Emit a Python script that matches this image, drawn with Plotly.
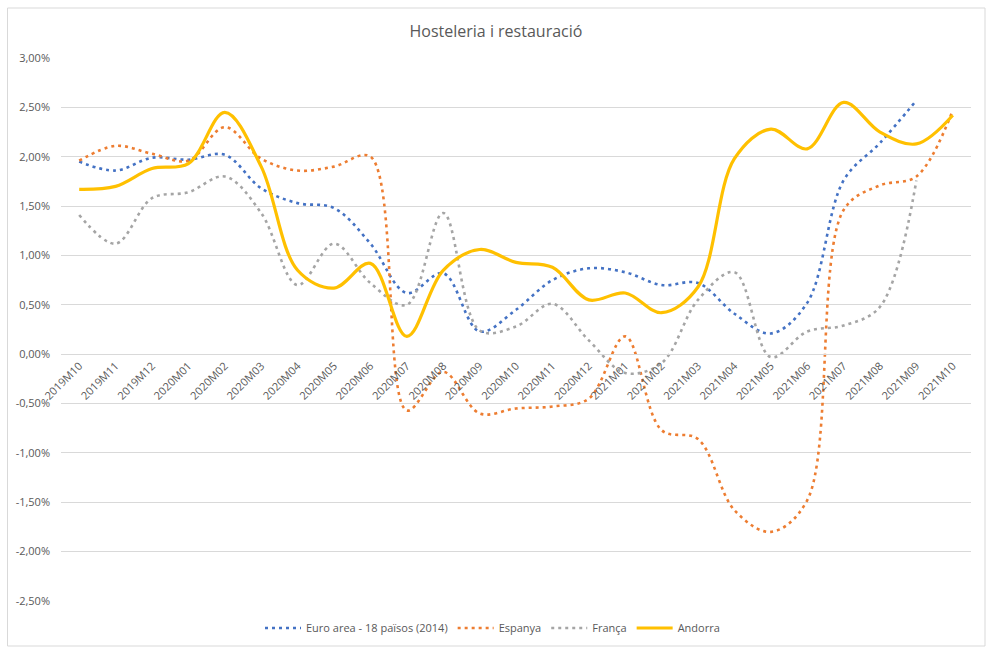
import plotly.graph_objects as go

months = ["2019M10", "2019M11", "2019M12", "2020M01", "2020M02", "2020M03", "2020M04",
          "2020M05", "2020M06", "2020M07", "2020M08", "2020M09", "2020M10", "2020M11",
          "2020M12", "2021M01", "2021M02", "2021M03", "2021M04", "2021M05", "2021M06",
          "2021M07", "2021M08", "2021M09", "2021M10"]

euro_area = [1.95, 1.86, 1.99, 1.97, 2.02, 1.68, 1.53, 1.48, 1.12, 0.62, 0.82, 0.23,
             0.45, 0.75, 0.87, 0.83, 0.70, 0.72, 0.41, 0.21, 0.52, 1.76, 2.14, 2.57, None]
espanya = [1.96, 2.11, 2.03, 1.96, 2.30, 1.98, 1.86, 1.90, 2.00, -0.57, -0.18, -0.60,
           -0.55, -0.53, -0.45, 0.18, -0.77, -0.86, -1.58, -1.80, -1.48, 1.46, 1.71, 1.80, 2.47]
franca = [1.41, 1.12, 1.58, 1.64, 1.80, 1.43, 0.70, 1.12, 0.72, 0.50, 1.43, 0.24,
          0.28, 0.51, 0.14, -0.19, -0.09, 0.55, 0.83, -0.03, 0.23, 0.29, 0.48, 1.76, None]
andorra = [1.67, 1.70, 1.88, 1.93, 2.45, 1.90, 0.85, 0.67, 0.92, 0.18, 0.85, 1.06,
           0.93, 0.88, 0.55, 0.62, 0.42, 0.68, 1.98, 2.28, 2.08, 2.55, 2.25, 2.13, 2.42]

y_tick_vals = [3.0, 2.5, 2.0, 1.5, 1.0, 0.5, 0.0, -0.5, -1.0, -1.5, -2.0, -2.5]
y_tick_text = ["3,00%", "2,50%", "2,00%", "1,50%", "1,00%", "0,50%", "0,00%",
               "-0,50%", "-1,00%", "-1,50%", "-2,00%", "-2,50%"]

series = [
    ("Euro area - 18 països (2014)", euro_area, "#4472C4", "3px,4px", 2.6),
    ("Espanya", espanya, "#ED7D31", "3px,4px", 2.6),
    ("França", franca, "#A5A5A5", "3px,4px", 2.6),
    ("Andorra", andorra, "#FFC000", "solid", 3.2),
]

fig = go.Figure()
for name, vals, color, dash, width in series:
    fig.add_trace(go.Scatter(
        x=months, y=vals, name=name, mode="lines",
        line=dict(color=color, dash=dash, width=width, shape="spline", smoothing=1.0),
        connectgaps=False,
    ))

W, H = 986, 648
ml, mr, mt, mb = 61, 15, 58, 47
ymin, ymax = -2.5, 3.0
zero_pos = (0 - ymin) / (ymax - ymin)

pw = W - ml - mr
ph = H - mt - mb

def px_x(x):
    return (x - ml) / pw

def px_y(y):
    return (H - mb - y) / ph

fig.update_layout(
    width=W, height=H,
    margin=dict(l=ml, r=mr, t=mt, b=mb, autoexpand=False),
    paper_bgcolor="white", plot_bgcolor="white",
    font=dict(family="Open Sans, Liberation Sans, sans-serif", color="#595959", size=11),
    title=dict(text="Hosteleria i restauració", x=0.503, xanchor="center",
               y=1 - 31 / H, yanchor="middle",
               font=dict(size=16, color="#595959")),
    showlegend=True,
    legend=dict(orientation="h", x=px_x(260), xanchor="left", y=px_y(628), yanchor="middle",
                font=dict(size=11, color="#595959"), itemwidth=36,
                bgcolor="rgba(0,0,0,0)"),
    xaxis=dict(
        type="category", categoryorder="array", categoryarray=months,
        range=[-0.5, len(months) - 0.5],
        anchor="free", position=zero_pos, automargin=False,
        showgrid=False, zeroline=False,
        showline=True, linecolor="#D9D9D9", linewidth=1,
        ticks="", tickangle=-45,
        tickfont=dict(size=11, color="#595959"),
    ),
    yaxis=dict(
        range=[ymin, ymax], automargin=False,
        tickvals=y_tick_vals, ticktext=y_tick_text,
        showgrid=True, gridcolor="#D9D9D9", gridwidth=1,
        zeroline=False, showline=False, ticks="", ticklabelstandoff=10,
        tickfont=dict(size=11, color="#595959"),
    ),
    shapes=[dict(type="rect", xref="paper", yref="paper",
                 x0=px_x(7.5), x1=px_x(985), y0=px_y(646), y1=px_y(8),
                 line=dict(color="#D9D9D9", width=1), fillcolor="rgba(0,0,0,0)",
                 layer="below")],
)

fig.write_html("out.html", config={"displayModeBar": False},
               post_script="document.body.style.margin='0';")
